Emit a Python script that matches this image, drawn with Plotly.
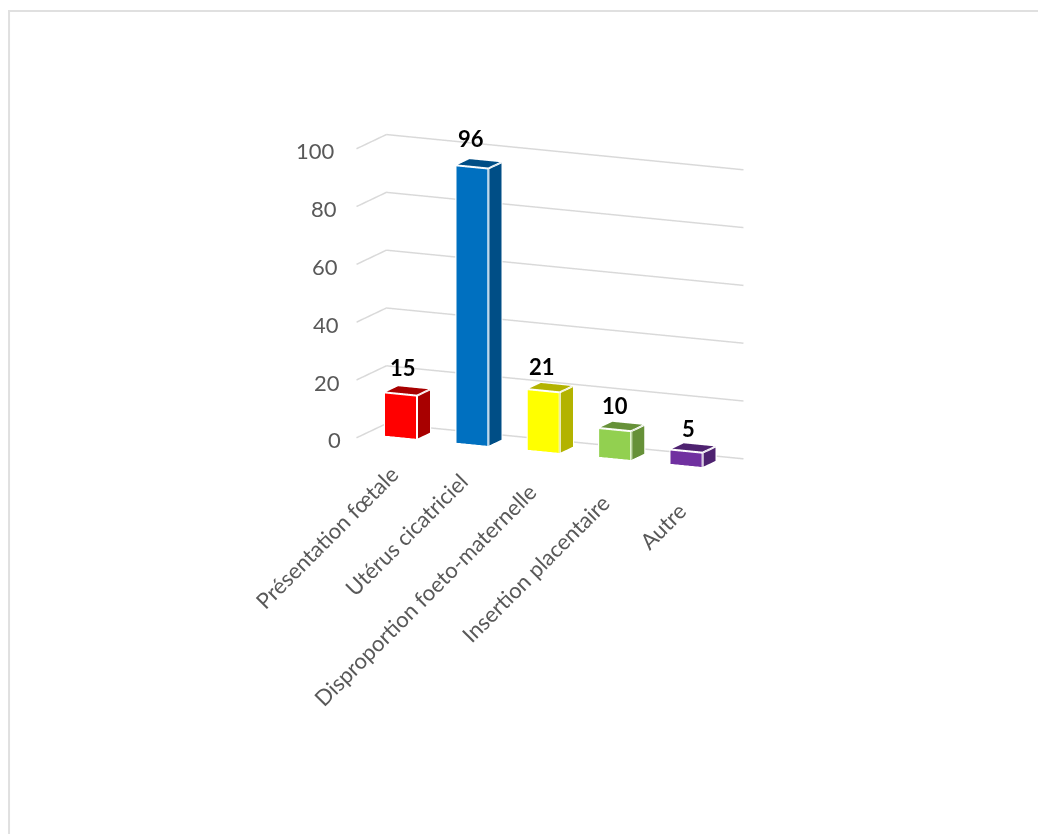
import math
import plotly.graph_objects as go

categories = ["Présentation fœtale", "Utérus cicatriciel", "Disproportion foeto-maternelle", "Insertion placentaire", "Autre"]
values = [15, 96, 21, 10, 5]
front_colors = ["#FF0000", "#0070C0", "#FFFF00", "#92D050", "#7030A0"]
side_colors = ["#A80000", "#004E86", "#B3B300", "#669138", "#4E2270"]
y_ticks = [0, 20, 40, 60, 80, 100]

# layout nudges (pixels) for the category and value labels
label_dx = [14, 12, 10, 11, 17]
label_dy = [-7, -8, -4, 0, 1]
value_dx = [-4, -8, -8, -6, -4]
value_dy = [8, 10, 6, 5, 4]

theta = math.radians(24.5)
phi = math.radians(12.5)
direction = (math.sin(theta) * math.cos(phi), -math.cos(theta) * math.cos(phi), math.sin(phi))
right = (math.cos(theta), math.sin(theta), 0.0)
upv = (-math.sin(phi) * math.sin(theta), math.sin(phi) * math.cos(theta), math.cos(phi))
L = 2.0
K = 418.0
shift_px = (19.0, 121.5)
center = tuple(-shift_px[0] / K * r - shift_px[1] / K * u for r, u in zip(right, upv))
eye = tuple(c + L * d for c, d in zip(center, direction))

fig = go.Figure()
X0, X1 = 0.28, 0.73
Y0, Y1 = 0.28, 0.72
for i, (v, fc, sc) in enumerate(zip(values, front_colors, side_colors)):
    a, b = i + X0, i + X1
    xs = [a, b, b, a, a, b, b, a]
    ys = [Y0, Y0, Y1, Y1, Y0, Y0, Y1, Y1]
    zs = [0, 0, 0, 0, v, v, v, v]
    tri = [(0, 1, 5), (0, 5, 4), (1, 2, 6), (1, 6, 5), (4, 5, 6), (4, 6, 7)]
    cols = [fc, fc, sc, sc, sc, sc]
    fig.add_trace(go.Mesh3d(x=xs, y=ys, z=zs,
                            i=[t[0] for t in tri], j=[t[1] for t in tri], k=[t[2] for t in tri],
                            facecolor=cols, flatshading=True, hoverinfo="skip",
                            lighting=dict(ambient=1, diffuse=0, specular=0, fresnel=0, roughness=1)))
    order = [0, 1, 5, 4, 0, None, 1, 2, 6, 5, None, 4, 7, 6]
    fig.add_trace(go.Scatter3d(x=[xs[o] if o is not None else None for o in order],
                               y=[ys[o] if o is not None else None for o in order],
                               z=[zs[o] if o is not None else None for o in order],
                               mode="lines", line=dict(color="white", width=4),
                               hoverinfo="skip", showlegend=False))

n = len(categories)
gx, gy, gz = [], [], []
for t in y_ticks:
    gx += [0, 0, n, None]
    gy += [0, 1, 1, None]
    gz += [t, t, t, None]
fig.add_trace(go.Scatter3d(x=gx, y=gy, z=gz, mode="lines", line=dict(color="#D9D9D9", width=3),
                           hoverinfo="skip", showlegend=False))

annos = []
for t in y_ticks:
    annos.append(dict(x=0, y=0, z=t, text=str(t), showarrow=False, xanchor="right",
                      xshift=-19 + 6 * (100 - t) / 100, yshift=-2,
                      font=dict(family="Lato", size=22, color="#595959")))
for i, c in enumerate(categories):
    annos.append(dict(x=i + 0.5, y=0, z=0, text=c, showarrow=False, textangle=-45,
                      xanchor="right", yanchor="top", xshift=label_dx[i], yshift=-24 - label_dy[i],
                      font=dict(family="Lato", size=22, color="#595959")))
for i, v in enumerate(values):
    annos.append(dict(x=i + 0.5, y=0.5, z=v, text=f"<b>{v}</b>", showarrow=False, yanchor="bottom",
                      xshift=value_dx[i], yshift=value_dy[i],
                      font=dict(family="Lato", size=22, color="#000000")))

hidden = dict(visible=False, showgrid=False, zeroline=False, showspikes=False)
frame = dict(color="#E0E0E0", width=2)
fig.update_layout(
    width=1046, height=834, margin=dict(l=0, r=0, t=0, b=0),
    paper_bgcolor="white", showlegend=False,
    scene=dict(
        domain=dict(x=[0, 1], y=[0, 1]),
        xaxis=dict(range=[0, n], **hidden),
        yaxis=dict(range=[0, 1], **hidden),
        zaxis=dict(range=[0, 100], **hidden),
        aspectmode="manual", aspectratio=dict(x=0.941, y=0.173, z=0.710),
        camera=dict(eye=dict(x=eye[0], y=eye[1], z=eye[2]),
                    center=dict(x=center[0], y=center[1], z=center[2]),
                    up=dict(x=0, y=0, z=1), projection=dict(type="orthographic")),
        annotations=annos,
    ),
    shapes=[
        dict(type="line", xref="paper", yref="paper", x0=0.001, x1=0.001, y0=0, y1=0.9964, line=frame),
        dict(type="line", xref="paper", yref="paper", x0=0, x1=1, y0=0.9964, y1=0.9964, line=frame),
    ],
)
fig.write_html("out.html")
